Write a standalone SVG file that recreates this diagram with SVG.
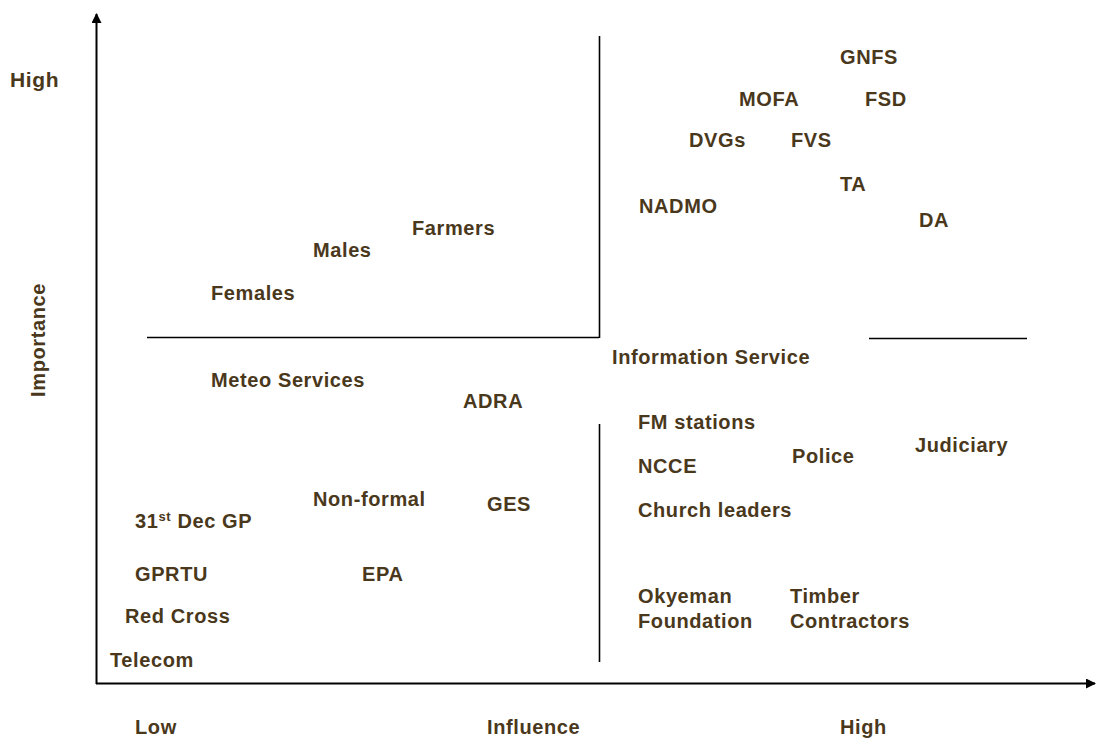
<svg xmlns="http://www.w3.org/2000/svg" width="1096" height="740" viewBox="0 0 1096 740">
  <style>
    text { font-family: "Liberation Sans", Arial, sans-serif; font-weight: bold; font-size: 20px; letter-spacing: 0.6px; fill: #4a381c; }
    .axis { stroke: #000; stroke-width: 2; fill: none; }
    .divider { stroke: #000; stroke-width: 1.6; fill: none; }
  </style>
  <defs>
    <marker id="arrow" viewBox="0 0 10 10" refX="9" refY="5" markerWidth="10" markerHeight="10" markerUnits="userSpaceOnUse" orient="auto">
      <path d="M0,0 L10,5 L0,10 Z" fill="#000"/>
    </marker>
  </defs>

  <!-- axes and quadrant dividers -->
  <g id="connectors">
    <line class="axis" x1="96.5" y1="684" x2="96.5" y2="14" marker-end="url(#arrow)"/>
    <line class="axis" x1="96" y1="683.5" x2="1095" y2="683.5" marker-end="url(#arrow)"/>
    <line class="divider" x1="147" y1="337.5" x2="599" y2="337.5"/>
    <line class="divider" x1="599.5" y1="36" x2="599.5" y2="338"/>
    <line class="divider" x1="869" y1="338.5" x2="1027" y2="338.5"/>
    <line class="divider" x1="599.5" y1="424" x2="599.5" y2="662"/>
  </g>

  <!-- axis labels -->
  <g id="axis-labels">
    <text x="10" y="87" style="font-size:21px">High</text>
    <text transform="translate(45,340) rotate(-90)" text-anchor="middle">Importance</text>
    <text x="135" y="734">Low</text>
    <text x="487" y="734">Influence</text>
    <text x="840" y="734">High</text>
  </g>

  <!-- high influence, high importance -->
  <g id="n-gnfs"><text x="840" y="64">GNFS</text></g>
  <g id="n-mofa"><text x="739" y="106">MOFA</text></g>
  <g id="n-fsd"><text x="865" y="106">FSD</text></g>
  <g id="n-dvgs"><text x="689" y="147">DVGs</text></g>
  <g id="n-fvs"><text x="791" y="147">FVS</text></g>
  <g id="n-ta"><text x="840" y="191">TA</text></g>
  <g id="n-nadmo"><text x="639" y="213">NADMO</text></g>
  <g id="n-da"><text x="919" y="227">DA</text></g>

  <!-- low influence, high importance -->
  <g id="n-farmers"><text x="412" y="235">Farmers</text></g>
  <g id="n-males"><text x="313" y="257">Males</text></g>
  <g id="n-females"><text x="211" y="300">Females</text></g>

  <!-- high influence, low importance -->
  <g id="n-info"><text x="612" y="364">Information Service</text></g>
  <g id="n-fm"><text x="638" y="429">FM stations</text></g>
  <g id="n-judiciary"><text x="915" y="452">Judiciary</text></g>
  <g id="n-police"><text x="792" y="463">Police</text></g>
  <g id="n-ncce"><text x="638" y="473">NCCE</text></g>
  <g id="n-church"><text x="638" y="517">Church leaders</text></g>
  <g id="n-okyeman"><text x="638" y="603">Okyeman</text><text x="638" y="628">Foundation</text></g>
  <g id="n-timber"><text x="790" y="603">Timber</text><text x="790" y="628">Contractors</text></g>

  <!-- low influence, low importance -->
  <g id="n-meteo"><text x="211" y="387">Meteo Services</text></g>
  <g id="n-adra"><text x="463" y="408">ADRA</text></g>
  <g id="n-nonformal"><text x="313" y="506">Non-formal</text></g>
  <g id="n-ges"><text x="487" y="511">GES</text></g>
  <g id="n-31dec"><text x="135" y="528">31<tspan dy="-7" font-size="13">st</tspan><tspan dy="7"> Dec GP</tspan></text></g>
  <g id="n-gprtu"><text x="135" y="581">GPRTU</text></g>
  <g id="n-epa"><text x="362" y="581">EPA</text></g>
  <g id="n-redcross"><text x="125" y="623">Red Cross</text></g>
  <g id="n-telecom"><text x="110" y="667">Telecom</text></g>
</svg>
